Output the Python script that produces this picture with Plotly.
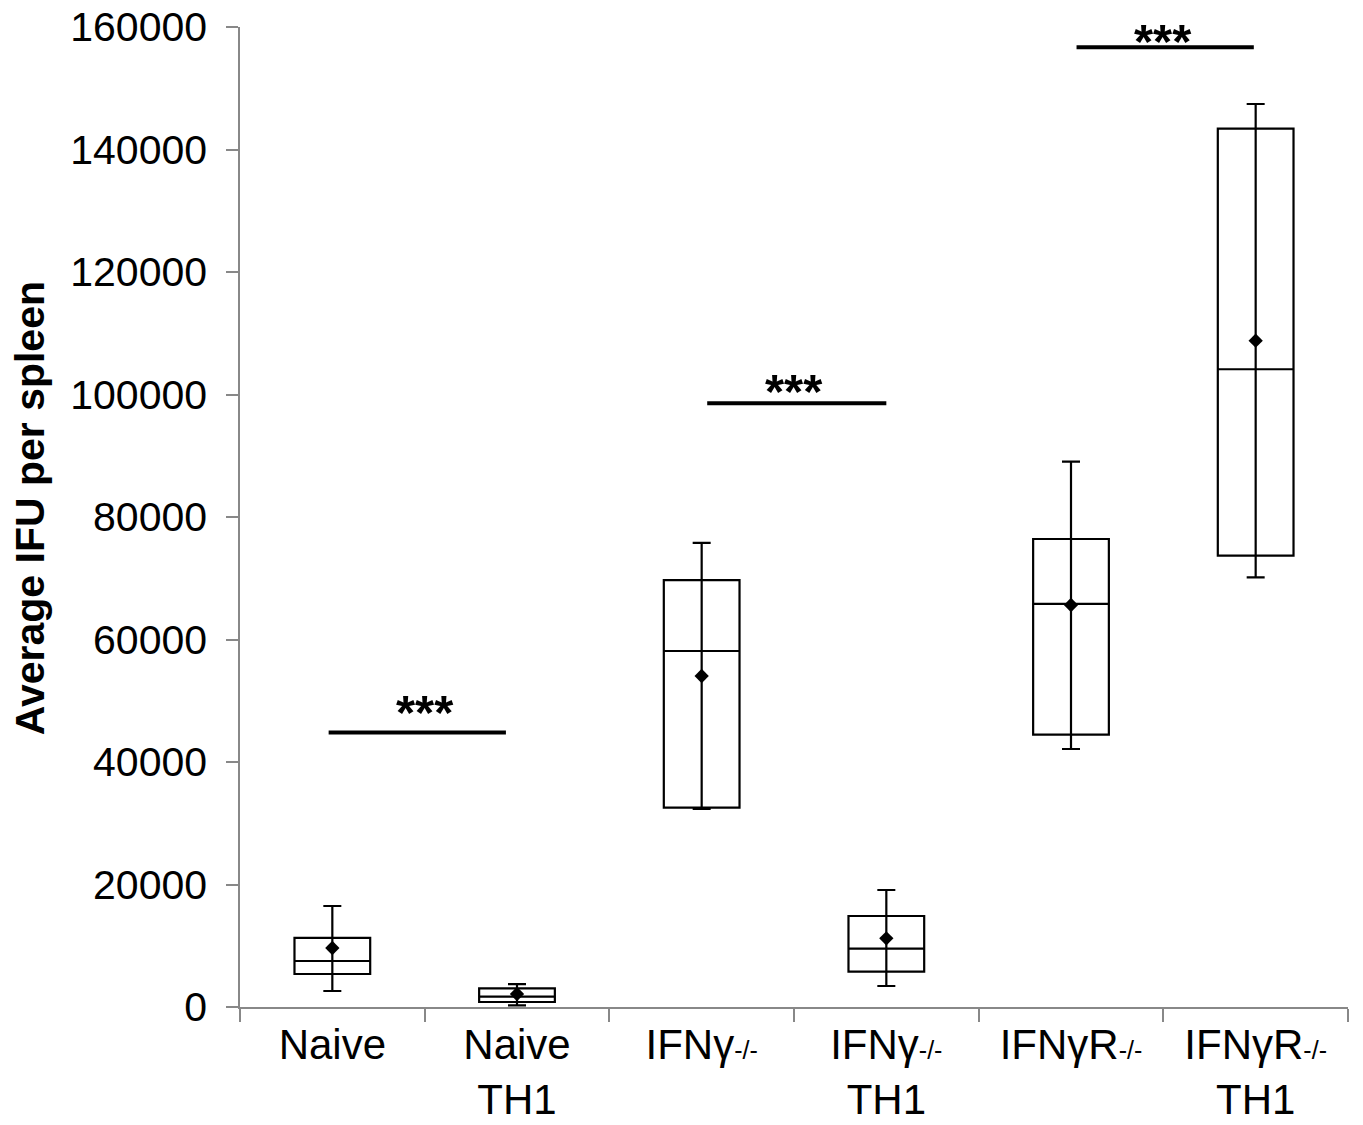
import plotly.graph_objects as go

SUB = '<span style="font-size:25px">-/-</span>'
categories = ["Naive", "Naive<br>TH1", "IFNγ" + SUB, "IFNγ" + SUB + "<br>TH1",
              "IFNγR" + SUB, "IFNγR" + SUB + "<br>TH1"]
q1 = [5390, 820, 32540, 5760, 44460, 73680]
median = [7510, 1680, 58120, 9520, 65800, 104120]
q3 = [11270, 3050, 69710, 14860, 76410, 143400]
whisker_min = [2610, 280, 32330, 3430, 42120, 70150]
whisker_max = [16490, 3750, 75760, 19100, 89030, 147430]
mean = [9630, 2120, 54040, 11220, 65630, 108790]

sig_x0 = [-0.02, 2.03, 4.03]
sig_x1 = [0.94, 3.0, 4.99]
sig_y = [44800, 98560, 156700]
sig_star_x = [0.5, 2.5, 4.5]
sig_star_y = [48900, 101470, 158600]
sig_text = ["***", "***", "***"]

y_ticks = [0, 20000, 40000, 60000, 80000, 100000, 120000, 140000, 160000]

FONT = "Liberation Sans, Arial, Helvetica, sans-serif"

fig = go.Figure()
fig.add_trace(go.Box(
    x=categories, q1=q1, median=median, q3=q3,
    lowerfence=q1, upperfence=q3,
    width=0.41, fillcolor="white",
    line=dict(color="black", width=2.2),
    boxpoints=False, showlegend=False,
))
fig.add_trace(go.Scatter(
    x=categories, y=mean, mode="markers",
    marker=dict(symbol="diamond", size=11, color="black"),
    error_y=dict(type="data", symmetric=False,
                 array=[mx - m for mx, m in zip(whisker_max, mean)],
                 arrayminus=[m - mn for m, mn in zip(mean, whisker_min)],
                 color="black", thickness=2.2, width=9),
    showlegend=False,
))
for x0, x1, y in zip(sig_x0, sig_x1, sig_y):
    fig.add_shape(type="line", xref="x", yref="y", x0=x0, x1=x1, y0=y, y1=y,
                  line=dict(color="black", width=4))
for x, y, t in zip(sig_star_x, sig_star_y, sig_text):
    fig.add_annotation(x=x, y=y, text="<b>" + t + "</b>", showarrow=False,
                       xref="x", yref="y", yanchor="middle", yshift=-5,
                       font=dict(size=49, color="black", family=FONT))

fig.add_annotation(text="<b>Average IFU per spleen</b>", textangle=-90,
                   xref="paper", yref="paper", x=(30 - 240) / 1108, y=0.509,
                   xanchor="center", yanchor="middle", showarrow=False,
                   font=dict(size=41, color="black", family=FONT))

# page body has an 8px margin, so the figure is shrunk by 8px and margins shifted
fig.update_layout(
    width=1355, height=1117,
    margin=dict(l=232, r=15, t=19, b=118, autoexpand=False),
    plot_bgcolor="white", paper_bgcolor="white",
    font=dict(family=FONT, size=41, color="black"),
    xaxis=dict(type="category", categoryorder="array", categoryarray=categories,
               range=[-0.5, 5.5], automargin=False,
               showline=True, linecolor="#888888", linewidth=1.5,
               ticks="outside", tickson="boundaries", ticklen=13,
               tickcolor="#888888", tickwidth=1.5,
               showgrid=False, zeroline=False, ticklabeloverflow="allow",
               tickfont=dict(size=42, family=FONT, color="black")),
    yaxis=dict(range=[0, 160000], tickvals=y_ticks, automargin=False,
               ticktext=[str(v) for v in y_ticks],
               showline=True, linecolor="#888888", linewidth=1.5,
               ticks="outside", ticklen=12, tickcolor="#888888", tickwidth=1.5,
               ticklabelstandoff=11, ticklabeloverflow="allow",
               showgrid=False, zeroline=False,
               tickfont=dict(size=41, family=FONT, color="black")),
)

fig.write_html("out.html")
